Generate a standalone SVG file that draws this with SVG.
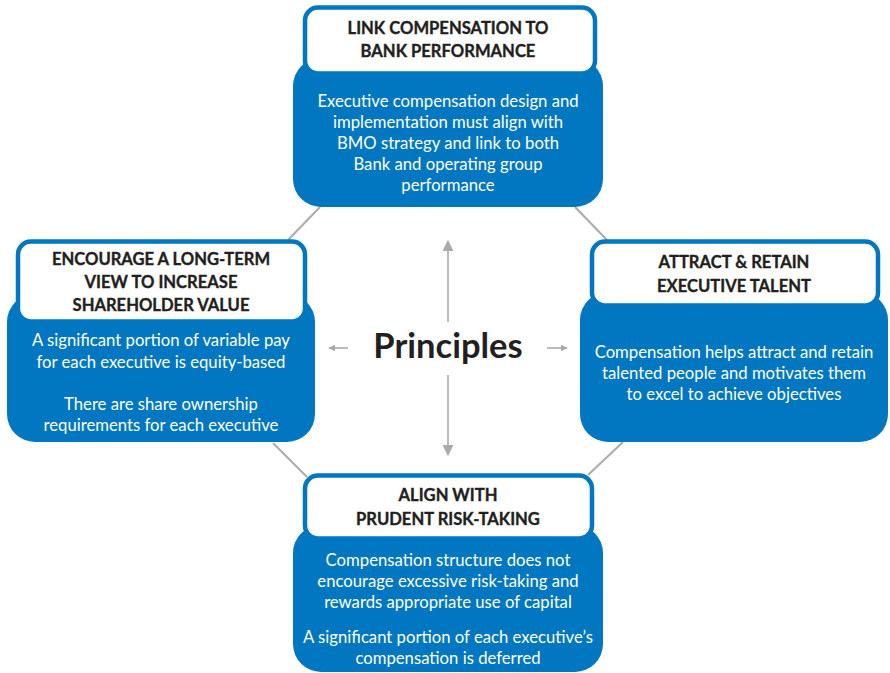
<svg xmlns="http://www.w3.org/2000/svg" width="890" height="673" viewBox="0 0 890 673">
<defs>
<style>
.body{fill:#0077c0}
.hdr{fill:#ffffff;stroke:#0077c0;stroke-width:4.5}
.t{font-family:Lato,"Liberation Sans",sans-serif;font-weight:700;font-size:16.6px;fill:#231f20;text-anchor:middle;stroke:#231f20;stroke-width:0.35}
.b{font-family:Lato,"Liberation Sans",sans-serif;font-size:16.7px;fill:#ffffff;text-anchor:middle}
.ln{stroke:#aaaaaa;stroke-width:2;fill:none}
.ar{stroke:#aaaaaa;stroke-width:1.6;fill:none}
</style>
<marker id="ah" viewBox="0 0 10 10" refX="9" refY="5" markerWidth="7" markerHeight="7" markerUnits="userSpaceOnUse" orient="auto">
<path d="M0,0 L10,5 L0,10 z" fill="#aaaaaa"/>
</marker>
<marker id="ahL" viewBox="0 0 10 10" refX="9" refY="5" markerWidth="11" markerHeight="11" markerUnits="userSpaceOnUse" orient="auto">
<path d="M0,0 L10,5 L0,10 z" fill="#aaaaaa"/>
</marker>
</defs>
<rect width="890" height="673" fill="#ffffff"/>
<g id="connectors">
<line class="ln" x1="320" y1="207" x2="288" y2="240"/>
<line class="ln" x1="575" y1="207" x2="607" y2="240"/>
<line class="ln" x1="273" y1="443" x2="307" y2="477"/>
<line class="ln" x1="623" y1="442" x2="588" y2="475"/>
<line class="ar" x1="448" y1="322" x2="448" y2="241" marker-end="url(#ahL)"/>
<line class="ar" x1="448" y1="375" x2="448" y2="455" marker-end="url(#ahL)"/>
<line class="ar" x1="348" y1="348" x2="329" y2="348" marker-end="url(#ah)"/>
<line class="ar" x1="547" y1="348" x2="567" y2="348" marker-end="url(#ah)"/>
</g>
<g id="center">
<text x="448" y="358" style="font-family:Lato,'Liberation Sans',sans-serif;font-weight:700;font-size:34.5px;fill:#231f20;text-anchor:middle">Principles</text>
</g>
<g id="node-top">
<rect class="body" x="293" y="58" width="310" height="149" rx="28"/>
<rect class="hdr" x="305" y="7.5" width="290" height="66" rx="13"/>
<text class="t" x="448" y="34">LINK COMPENSATION TO</text>
<text class="t" x="448" y="57">BANK PERFORMANCE</text>
<text class="b" x="448" y="107">Executive compensation design and</text>
<text class="b" x="448" y="128">implementation must align with</text>
<text class="b" x="448" y="149">BMO strategy and link to both</text>
<text class="b" x="448" y="170">Bank and operating group</text>
<text class="b" x="448" y="191">performance</text>
</g>
<g id="node-left">
<rect class="body" x="7" y="294" width="308" height="148" rx="28"/>
<rect class="hdr" x="18" y="241.5" width="287" height="80" rx="13"/>
<text class="t" x="161" y="265">ENCOURAGE A LONG-TERM</text>
<text class="t" x="161" y="288">VIEW TO INCREASE</text>
<text class="t" x="161" y="311">SHAREHOLDER VALUE</text>
<text class="b" x="161" y="346">A significant portion of variable pay</text>
<text class="b" x="161" y="368">for each executive is equity-based</text>
<text class="b" x="161" y="410">There are share ownership</text>
<text class="b" x="161" y="431">requirements for each executive</text>
</g>
<g id="node-right">
<rect class="body" x="580" y="292" width="308" height="150" rx="28"/>
<rect class="hdr" x="592" y="241.5" width="286" height="64" rx="13"/>
<text class="t" x="734" y="268">ATTRACT &amp; RETAIN</text>
<text class="t" x="734" y="292">EXECUTIVE TALENT</text>
<text class="b" x="734" y="358">Compensation helps attract and retain</text>
<text class="b" x="734" y="379">talented people and motivates them</text>
<text class="b" x="734" y="400">to excel to achieve objectives</text>
</g>
<g id="node-bottom">
<rect class="body" x="293" y="525" width="310" height="147" rx="28"/>
<rect class="hdr" x="305" y="475.5" width="287" height="63" rx="13"/>
<text class="t" x="448" y="501">ALIGN WITH</text>
<text class="t" x="448" y="525">PRUDENT RISK-TAKING</text>
<text class="b" x="448" y="566">Compensation structure does not</text>
<text class="b" x="448" y="587">encourage excessive risk-taking and</text>
<text class="b" x="448" y="608">rewards appropriate use of capital</text>
<text class="b" x="448" y="643">A significant portion of each executive’s</text>
<text class="b" x="448" y="664">compensation is deferred</text>
</g>
</svg>
